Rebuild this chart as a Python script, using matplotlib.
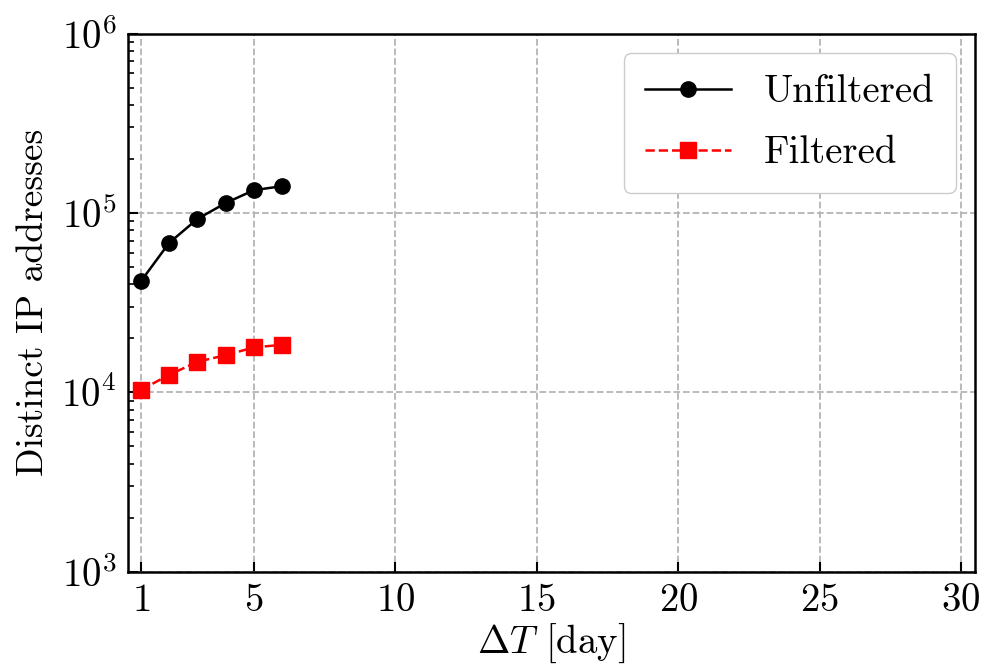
import numpy as np
import matplotlib.pyplot as plt
from matplotlib.ticker import LogLocator, NullFormatter

plt.rcParams["font.family"] = "serif"
plt.rcParams["font.serif"] = ["cmr10"]
plt.rcParams["mathtext.fontset"] = "cm"
plt.rcParams["axes.formatter.use_mathtext"] = True

# window length in days
delta_t = [1, 2, 3, 4, 5, 6]
# distinct IP addresses seen in the window
unfiltered = [41500, 68000, 92500, 113500, 134000, 141000]
filtered = [10300, 12500, 14800, 16100, 17800, 18400]

x_ticks = [1, 5, 10, 15, 20, 25, 30]

fig, ax = plt.subplots(figsize=(9.85, 6.71), dpi=100)

ax.plot(delta_t, unfiltered, "-o", color="black", lw=1.8, ms=11, label="Unfiltered")
ax.plot(delta_t, filtered, "--s", color="red", lw=1.8, ms=11, label="Filtered")

ax.set_yscale("log")
ax.set_ylim(1e3, 1e6)
ax.set_xlim(0.55, 30.5)
ax.set_xticks(x_ticks)
ax.yaxis.set_minor_locator(LogLocator(base=10, subs=np.arange(2, 10)))
ax.yaxis.set_minor_formatter(NullFormatter())

ax.tick_params(axis="both", which="major", direction="in", length=7, width=1.5,
               labelsize=28, pad=8)
ax.tick_params(axis="y", which="minor", direction="in", length=4, width=1.2)
for s in ax.spines.values():
    s.set_linewidth(1.8)

ax.grid(True, which="major", ls="--", color="#b4b4b4", lw=1.3)

ax.set_xlabel(r"$\Delta T$ [day]", fontsize=28, labelpad=2)
ax.set_ylabel("Distinct IP addresses", fontsize=27, labelpad=8)

leg = ax.legend(loc="upper right", fontsize=28, fancybox=True, framealpha=1,
                edgecolor="#cccccc", handlelength=2.2, handletextpad=0.85,
                labelspacing=0.65, borderpad=0.55)

fig.subplots_adjust(left=0.13, right=0.99, top=0.95, bottom=0.148)
fig.savefig("out.png", dpi=100)
